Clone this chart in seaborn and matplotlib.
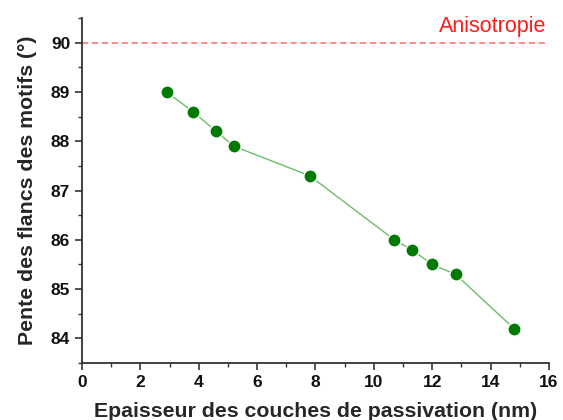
import matplotlib
matplotlib.use("Agg")
import matplotlib.pyplot as plt
import seaborn as sns
import pandas as pd
from matplotlib.ticker import MultipleLocator

# %% data
thickness = [2.9, 3.8, 4.6, 5.2, 7.8, 10.7, 11.3, 12.0, 12.8, 14.8]
slope = [89.0, 88.6, 88.2, 87.9, 87.3, 86.0, 85.8, 85.5, 85.3, 84.2]
anisotropy = 90.0

df = pd.DataFrame({"thickness": thickness, "slope": slope})

sns.set_style("ticks")
plt.rcParams["font.family"] = ["Liberation Sans", "DejaVu Sans"]

fig = plt.figure(figsize=(5.63, 4.2), dpi=100)
ax = fig.add_axes([0.1457, 0.1357, 0.8293, 0.8213])

ax.axhline(anisotropy, xmin=0, xmax=15.9 / 16, color="#ff6b6b",
           linestyle=(0, (4, 2.5)), linewidth=1.1)
ax.text(15.9, 90.12, "Anisotropie", color="#ff1a1a", fontsize=15.5,
        ha="right", va="bottom")

sns.lineplot(data=df, x="thickness", y="slope", ax=ax, color="#6abf69",
             linewidth=1.0, marker="o", markersize=9.5,
             markerfacecolor="#007a00", markeredgecolor="white",
             markeredgewidth=1.0)

ax.set_xlim(0, 16)
ax.set_ylim(83.5, 90.5)
ax.xaxis.set_major_locator(MultipleLocator(2))
ax.xaxis.set_minor_locator(MultipleLocator(1))
ax.yaxis.set_major_locator(MultipleLocator(1))
ax.yaxis.set_minor_locator(MultipleLocator(0.5))
ax.tick_params(which="major", length=5, width=1.2, color="#333333",
               labelsize=12.5, labelcolor="#111111")
ax.tick_params(which="minor", length=3, width=1.0, color="#333333")
for lab in ax.get_xticklabels() + ax.get_yticklabels():
    lab.set_fontweight("bold")

sns.despine(ax=ax)
for s in ("left", "bottom"):
    ax.spines[s].set_linewidth(1.3)
    ax.spines[s].set_color("#333333")

ax.set_xlabel("Epaisseur des couches de passivation (nm)", fontsize=15.3,
              fontweight="bold", labelpad=9)
ax.set_ylabel("Pente des flancs des motifs (°)", fontsize=15.3,
              fontweight="bold", labelpad=10)

fig.savefig("out.png", dpi=100)
